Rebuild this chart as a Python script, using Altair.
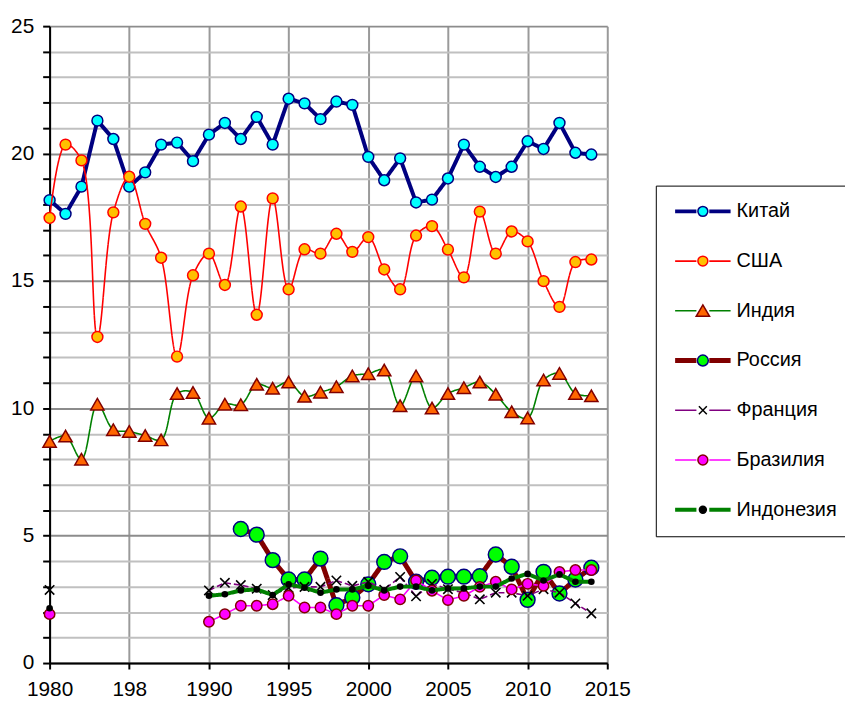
import altair as alt
import pandas as pd

# ---------------- data ----------------
years_all = list(range(1980, 2015))
years_late = list(range(1990, 2015))
years_russia = list(range(1992, 2015))

china = [18.17, 17.63, 18.70, 21.29, 20.57, 18.70, 19.26, 20.35, 20.43, 19.70,
         20.74, 21.20, 20.57, 21.44, 20.35, 22.15, 21.97, 21.35, 22.04, 21.91,
         19.87, 18.95, 19.81, 18.08, 18.19, 19.02, 20.35, 19.48, 19.08, 19.48,
         20.48, 20.18, 21.20, 20.03, 19.96]
usa = [17.47, 20.35, 19.73, 12.80, 17.69, 19.09, 17.24, 15.91, 12.03, 15.22,
       16.07, 14.84, 17.92, 13.67, 18.24, 14.67, 16.24, 16.07, 16.85, 16.14,
       16.72, 15.45, 14.67, 16.78, 17.15, 16.23, 15.14, 17.72, 16.07, 16.94,
       16.55, 14.99, 13.98, 15.74, 15.84]
india = [8.70, 8.91, 8.00, 10.16, 9.16, 9.09, 8.93, 8.76, 10.58, 10.62,
         9.61, 10.16, 10.14, 10.94, 10.79, 11.03, 10.47, 10.63, 10.85, 11.27,
         11.36, 11.50, 10.10, 11.27, 10.01, 10.58, 10.81, 11.03, 10.55, 9.86,
         9.62, 11.11, 11.37, 10.58, 10.49]
russia = [5.26, 5.04, 4.04, 3.28, 3.28, 4.10, 2.27, 2.57, 3.09, 3.97,
          4.19, 3.19, 3.35, 3.39, 3.39, 3.41, 4.26, 3.78, 2.48, 3.58,
          2.73, 3.28, 3.74]
france_1980 = 2.87
france = [2.85, 3.15, 3.06, 2.92, 2.67, 2.95, 2.99, 2.99, 3.24, 3.03,
          3.19, 2.88, 3.38, 2.62, 3.11, 2.90, 2.76, 2.50, 2.76, 2.76,
          2.64, 2.90, 2.76, 2.34, 1.95]
brazil_1980 = 1.92
brazil = [1.62, 1.92, 2.25, 2.25, 2.31, 2.64, 2.18, 2.18, 1.92, 2.25,
          2.25, 2.67, 2.50, 3.24, 2.84, 2.47, 2.64, 2.99, 3.19, 2.89,
          3.11, 3.03, 3.58, 3.65, 3.65]
indonesia_1980 = 2.15
indonesia = [2.64, 2.70, 2.85, 2.89, 2.67, 3.09, 2.96, 2.76, 2.89, 2.89,
             3.03, 2.85, 3.00, 3.00, 2.85, 2.93, 2.93, 3.00, 3.00, 3.32,
             3.50, 3.24, 3.48, 3.19, 3.19]

countries = ["Китай", "США", "Индия", "Россия", "Франция", "Бразилия", "Индонезия"]
legend_keys = ["k1", "k2", "k3", "k4", "k5", "k6", "k7"]

x_ticks = [1980, 1985, 1990, 1995, 2000, 2005, 2010, 2015]
x_tick_labels = ["1980", "198", "1990", "1995", "2000", "2005", "2010", "2015"]
y_ticks = list(range(0, 26))

# ---------------- styles ----------------
FONT = "Liberation Sans"
line_colors = ["#000080", "#FF0000", "#008000", "#800000", "#800080", "#FF00FF", "#008000"]
line_widths = [4, 1.6, 1.6, 5, 1.6, 1.6, 4]
line_dashes = [[1, 0], [1, 0], [1, 0], [1, 0], [6, 3], [1, 0], [1, 0]]
marker_fills = ["#00FFFF", "#FFC000", "#FF6600", "#00FF00", "#000000", "#FF00FF", "#000000"]
marker_strokes = ["#000080", "#FF0000", "#800000", "#000080", "#000000", "#800000", "#000000"]

CIRCLE = "M-1,0A1,1 0 1,0 1,0A1,1 0 1,0 -1,0Z"
XMARK = "M-1,-1L1,1M1,-1L-1,1"

# ---------------- table ----------------
rows = []
def add(name, yrs, vals):
    for y, v in zip(yrs, vals):
        rows.append({"country": name, "year": y, "value": v})

add("Китай", years_all, china)
add("США", years_all, usa)
add("Индия", years_all, india)
add("Россия", years_russia, russia)
add("Франция", [1980] + years_late, [france_1980] + france)
add("Бразилия", [1980] + years_late, [brazil_1980] + brazil)
add("Индонезия", [1980] + years_late, [indonesia_1980] + indonesia)
df = pd.DataFrame(rows)

label_expr = "format(datum.value, 'd')"
for t, l in zip(x_ticks, x_tick_labels):
    if str(t) != l:
        label_expr = f"datum.value == {t} ? '{l}' : ({label_expr})"

x_axis = alt.Axis(values=x_ticks, tickCount=100, labelExpr=label_expr, title=None, format="d",
                  grid=True, gridColor="#9a9a9a", gridWidth=2,
                  tickColor="black", tickWidth=2, tickSize=6,
                  domainColor="black", domainWidth=2,
                  labelFont=FONT, labelFontSize=21, labelColor="black",
                  labelPadding=10, labelFlush=False, labelOverlap=False)
y_axis = alt.Axis(values=y_ticks, tickCount=100,
                  labelExpr="datum.value % 5 == 0 ? format(datum.value, 'd') : ''",
                  title=None, grid=True,
                  gridColor={"condition": {"test": "datum.value % 5 === 0", "value": "#8c8c8c"},
                             "value": "#c0c0c0"},
                  gridWidth=2,
                  tickColor="black", tickWidth=2, tickSize=7,
                  domainColor="black", domainWidth=2,
                  labelFont=FONT, labelFontSize=21, labelColor="black",
                  labelPadding=9, labelOverlap=False)

x_enc = alt.X("year:Q", scale=alt.Scale(domain=[1980, 2015], nice=False, zero=False), axis=x_axis)
y_enc = alt.Y("value:Q", scale=alt.Scale(domain=[0, 25], nice=False, zero=True), axis=y_axis)

base = alt.Chart(df)

def series(name, interp, line_filter, mshape, msize, mfilled=True, mstroke_w=1.5):
    i = countries.index(name)
    sel = f"datum.country == '{name}'"
    lf = sel + (f" && {line_filter}" if line_filter else "")
    line = base.transform_filter(lf).mark_line(
        color=line_colors[i], strokeWidth=line_widths[i], interpolate=interp,
        strokeDash=line_dashes[i]
    ).encode(x=x_enc, y=y_enc)
    pt_kwargs = dict(shape=mshape, size=msize, opacity=1, strokeWidth=mstroke_w,
                     stroke=marker_strokes[i])
    if mfilled:
        pt_kwargs.update(filled=True, fill=marker_fills[i])
    else:
        pt_kwargs.update(filled=False)
    pts = base.transform_filter(sel).mark_point(**pt_kwargs).encode(x=x_enc, y=y_enc)
    return [line, pts]

layers = []
layers += series("Китай", "linear", None, "circle", 121)
layers += series("США", "catmull-rom", None, "circle", 121)
layers += series("Индия", "catmull-rom", None, "triangle-up", 180)
layers += series("Россия", "linear", None, "circle", 225)
layers += series("Франция", "linear", "datum.year >= 1990", XMARK, 90, mfilled=False, mstroke_w=1.6)
layers += series("Бразилия", "linear", "datum.year >= 1990", "circle", 110)
layers += series("Индонезия", "linear", "datum.year >= 1990", "circle", 45, mstroke_w=0)

# ---------------- legend (two overlaid native legends) ----------------
legend_df = pd.DataFrame({"country": countries, "key": legend_keys})
LX, LY = 612, 161
common = dict(orient="none", legendX=LX, legendY=LY, title=None, symbolSize=100,
              padding=16, rowPadding=30.2, labelFont=FONT, labelFontSize=20,
              labelColor="black", labelLimit=400, symbolOffset=21.5, labelOffset=24)

# lines of the legend (colour = stroke of a line mark)
legA = alt.Legend(strokeColor="black", symbolType="M-5.6,0L-1.3,0M1.3,0L5.6,0", zindex=1, **common)
leg_lines = alt.Chart(legend_df).transform_filter("false").mark_line().encode(
    color=alt.Color("country:N", scale=alt.Scale(domain=countries, range=line_colors), legend=legA),
    strokeWidth=alt.StrokeWidth("country:N", scale=alt.Scale(type="ordinal", domain=countries, range=line_widths), legend=legA),
)

# markers of the legend
marker_paths = [CIRCLE, CIRCLE, "M0,-1.2L1.35,1.1L-1.35,1.1Z",
                "M-1.1,0A1.1,1.1 0 1,0 1.1,0A1.1,1.1 0 1,0 -1.1,0Z",
                "M-0.8,-0.8L0.8,0.8M0.8,-0.8L-0.8,0.8", CIRCLE,
                "M-0.7,0A0.7,0.7 0 1,0 0.7,0A0.7,0.7 0 1,0 -0.7,0Z"]
legB = alt.Legend(labelExpr="''", symbolStrokeWidth=1.5, zindex=2,
                  symbolFillColor="white", symbolStrokeColor="black", **common)
leg_marks = alt.Chart(legend_df).transform_filter("false").mark_point(filled=True, opacity=1, strokeWidth=1.5).encode(
    fill=alt.Fill("key:N", scale=alt.Scale(domain=legend_keys, range=marker_fills), legend=legB),
    shape=alt.Shape("key:N", scale=alt.Scale(domain=legend_keys, range=marker_paths), legend=legB),
    stroke=alt.Stroke("key:N", scale=alt.Scale(domain=legend_keys, range=marker_strokes), legend=legB),
)

chart = alt.layer(*layers, leg_lines, leg_marks).properties(
    width=563, height=643,
    autosize=alt.AutoSizeParams(type="none"),
    padding={"left": 42, "top": 15, "right": 240, "bottom": 35},
    background="white",
).configure_view(stroke=None).configure_axis(labelOverlap=False)

chart.save("out.html", embed_options={"renderer": "svg", "actions": False})
